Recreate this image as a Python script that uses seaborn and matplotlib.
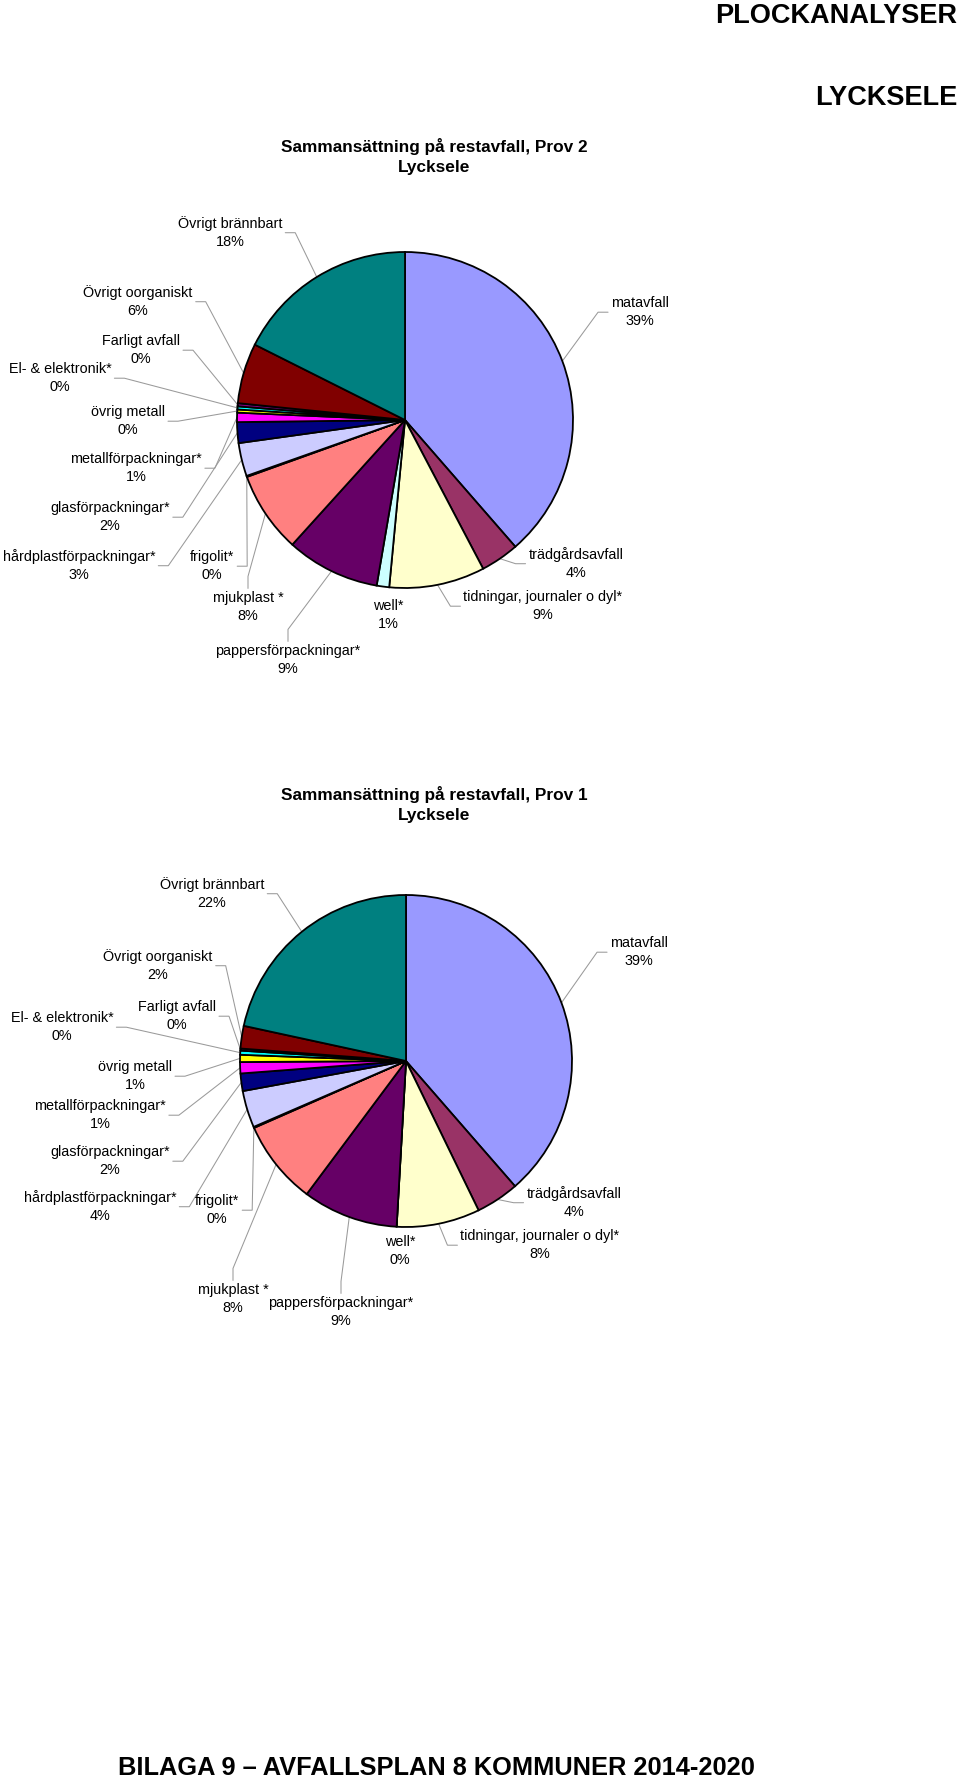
import numpy as np
import matplotlib
matplotlib.use('Agg')
import matplotlib.pyplot as plt
from matplotlib import font_manager
from matplotlib.transforms import Bbox
import seaborn as sns

W, H = 960, 1778

# kategorier i den ordning de ritas (medurs från kl 12)
kategorier = ["matavfall", "trädgårdsavfall", "tidningar, journaler o dyl*", "well*",
              "pappersförpackningar*", "mjukplast *", "frigolit*", "hårdplastförpackningar*",
              "glasförpackningar*", "metallförpackningar*", "övrig metall", "El- & elektronik*",
              "Farligt avfall", "Övrigt oorganiskt", "Övrigt brännbart"]
# andelar i procent, avlästa ur diagrammen
prov2 = [38.6, 3.7, 9.2, 1.2, 9.0, 7.8, 0.1, 3.2, 2.0, 0.9, 0.3, 0.3, 0.3, 5.8, 17.6]
prov1 = [38.6, 4.2, 8.1, 0.0, 9.3, 8.2, 0.1, 3.6, 1.7, 1.1, 0.7, 0.4, 0.2, 2.2, 21.6]
farger = ["#9999FF", "#993366", "#FFFFCC", "#CCFFFF", "#660066", "#FF8080", "#0066CC",
          "#CCCCFF", "#000080", "#FF00FF", "#FFFF00", "#00FFFF", "#800080", "#800000", "#008080"]

# etiketternas placering (mitt av textblocket, px från övre vänstra hörnet)
pos_prov2 = [(640, 311), (576, 563), (543, 605), (388, 614), (288, 659), (248, 606), (212, 565),
             (79, 565), (110, 516), (136, 467), (128, 420), (60, 377), (141, 349), (138, 301), (230, 232)]
pos_prov1 = [(639, 951), (574, 1202), (540, 1244), (400, 1250), (341, 1311), (233, 1298), (217, 1209),
             (100, 1206), (110, 1160), (100, 1114), (135, 1075), (62, 1026), (177, 1015), (158, 965), (212, 893)]
# var ledlinjen fäster på etiketten: L=vänster kant, R=höger kant, T=överkant, None=ingen linje
fasten = ['L', 'L', 'L', None, 'T', 'T', 'R', 'R', 'R', 'R', 'R', 'R', 'R', 'R', 'R']

sns.set_theme(style='white')
plt.rcParams['font.family'] = ['Liberation Sans', 'DejaVu Sans']
plt.rcParams['text.color'] = 'black'
pal = sns.color_palette(farger)

names = {f.name for f in font_manager.fontManager.ttflist}
if 'Liberation Sans Narrow' in names:
    fot_font, fot_size = ['Liberation Sans Narrow', 'Liberation Sans'], 22
else:
    fot_font, fot_size = ['Liberation Sans', 'DejaVu Sans'], 18.3

fig = plt.figure(figsize=(W / 100, H / 100), dpi=100)
ax = fig.add_axes([0, 0, 1, 1])


def rita_paj(values, center, R, positions):
    cx, cy = center
    wedges, _ = ax.pie(values, colors=pal, startangle=90, counterclock=False, radius=R,
                       center=(cx, H - cy),
                       wedgeprops=dict(edgecolor='black', linewidth=1.3))
    tot = sum(values)
    etiketter = []
    for namn, v, (lx, ly) in zip(kategorier, values, positions):
        t1 = ax.text(lx, H - (ly - 3.6), namn, ha='center', va='baseline', fontsize=10.4, color='black')
        t2 = ax.text(lx, H - (ly + 14.0), f"{round(v / tot * 100)}%", ha='center', va='baseline',
                     fontsize=10.4, color='black')
        etiketter.append((t1, t2))
    return (cx, H - cy, R), wedges, etiketter


def ledlinjer(paj, wedges, etiketter):
    (cx, cy, R) = paj
    r = fig.canvas.get_renderer()
    inv = ax.transData.inverted()
    for w, (t1, t2), sida in zip(wedges, etiketter, fasten):
        if sida is None:
            continue
        bb = Bbox.union([t1.get_window_extent(r), t2.get_window_extent(r)])
        bb = Bbox(inv.transform(bb.get_points()))
        mid = np.deg2rad((w.theta1 + w.theta2) / 2)
        ankare = (cx + R * np.cos(mid), cy + R * np.sin(mid))
        ym = (bb.y0 + bb.y1) / 2
        if sida == 'R':
            p0 = (bb.x1 + 3, ym)
            p1 = (bb.x1 + 13, ym)
        elif sida == 'L':
            p0 = (bb.x0 - 3, ym)
            p1 = (bb.x0 - 13, ym)
        else:
            xm = (bb.x0 + bb.x1) / 2
            p0 = (xm, bb.y1 + 3)
            p1 = (xm, bb.y1 + 15)
        ax.plot([p0[0], p1[0], ankare[0]], [p0[1], p1[1], ankare[1]],
                color='#9a9a9a', lw=0.75, zorder=0.5)


paj2 = rita_paj(prov2, (405, 420), 168, pos_prov2)
paj1 = rita_paj(prov1, (406, 1061), 166, pos_prov1)

# rubriker
ax.text(957, H - 23, "PLOCKANALYSER", ha='right', va='baseline', fontsize=19.5, fontweight='bold', color='black')
ax.text(957, H - 105, "LYCKSELE", ha='right', va='baseline', fontsize=19.5, fontweight='bold', color='black')
ax.text(434.5, H - 152, "Sammansättning på restavfall, Prov 2", ha='center', va='baseline',
        fontsize=12.4, fontweight='bold', color='black')
ax.text(434.5, H - 172, "Lycksele", ha='center', va='baseline', fontsize=12.4, fontweight='bold', color='black')
ax.text(434.5, H - 800, "Sammansättning på restavfall, Prov 1", ha='center', va='baseline',
        fontsize=12.4, fontweight='bold', color='black')
ax.text(434.5, H - 820, "Lycksele", ha='center', va='baseline', fontsize=12.4, fontweight='bold', color='black')
ax.text(436, H - 1775, "BILAGA 9 – AVFALLSPLAN 8 KOMMUNER 2014-2020", ha='center', va='baseline',
        fontsize=fot_size, fontweight='bold', family=fot_font, color='black')

ax.set_xlim(0, W)
ax.set_ylim(0, H)
ax.set_aspect('auto')
ax.axis('off')

fig.canvas.draw()
ledlinjer(*paj2)
ledlinjer(*paj1)

fig.savefig('out.png', dpi=100, facecolor='white')
